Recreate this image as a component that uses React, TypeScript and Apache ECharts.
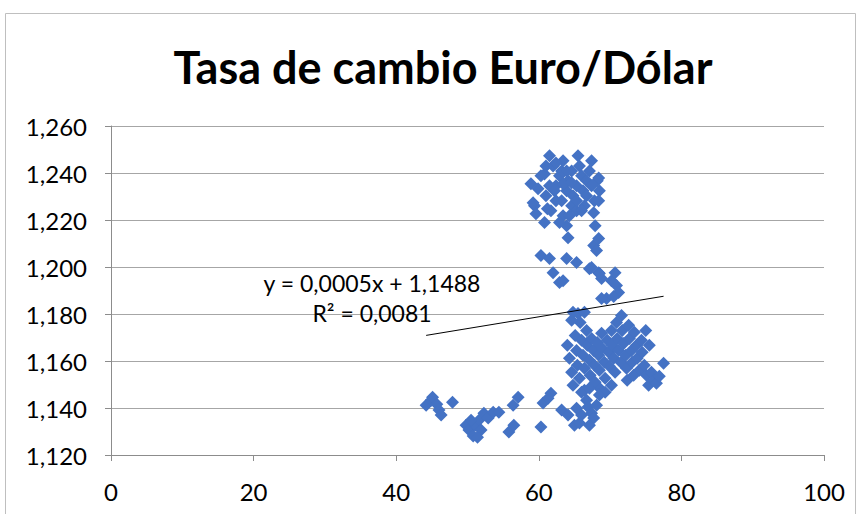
import React, { useEffect, useRef } from "react";
import * as echarts from "echarts";

const chartTitle = "Tasa de cambio Euro/Dólar";
const equationText = "y = 0,0005x + 1,1488";
const r2Text = "R² = 0,0081";
const trendSlope = 0.0005;
const trendIntercept = 1.1488;

const yTickMin = 1.12;
const yTickMax = 1.26;
const yTickStep = 0.02;
const xTickMin = 0;
const xTickMax = 100;
const xTickStep = 20;

// lower-left group
const groupAX = [44.2, 44.9, 45.1, 45.7, 46.0, 46.3, 47.9, 49.8, 50.2, 50.8, 51.1, 51.6, 51.9, 52.3, 52.9, 53.6, 54.4, 55.8, 56.4, 56.5, 57.1, 51.4, 50.5];
const groupAY = [1.1412, 1.1433, 1.1446, 1.1416, 1.1391, 1.137, 1.1425, 1.1327, 1.1306, 1.1281, 1.1327, 1.1348, 1.1306, 1.1378, 1.1357, 1.1382, 1.1382, 1.1298, 1.1412, 1.1327, 1.1446, 1.1276, 1.1348];

// bottom-middle group
const groupBX = [60.3, 60.6, 61.7, 61.3, 63.2, 64.1, 65.0, 65.7, 66.0, 66.4, 66.7, 66.9, 67.4, 67.7, 67.1, 68.1, 68.4, 65.3];
const groupBY = [1.1319, 1.1421, 1.1463, 1.1442, 1.1391, 1.137, 1.1327, 1.1336, 1.137, 1.1476, 1.1433, 1.1404, 1.1378, 1.1357, 1.1327, 1.1412, 1.1488, 1.1399];

// main right group
const groupCX = [64.0, 64.3, 64.6, 64.8, 65.1, 65.3, 65.4, 65.7, 65.8, 66.0, 66.2, 66.4, 66.7, 66.8, 67.1, 67.2, 67.4, 67.7, 67.8, 67.9, 68.2, 68.4, 68.5, 68.8, 68.9, 69.2, 69.3, 69.6, 69.8, 69.9, 70.2, 70.3, 70.5, 70.7, 70.9, 71.0, 71.2, 71.5, 71.6, 71.7, 71.9, 72.2, 72.3, 72.6, 72.7, 73.0, 73.1, 73.4, 73.7, 73.8, 74.1, 74.4, 74.5, 74.8, 75.1, 75.4, 75.8, 76.1, 76.5, 76.9, 77.5, 75.5, 75.0, 69.3, 68.5, 70.2, 72.4, 73.3, 66.0, 67.1];
const groupCY = [1.1667, 1.1612, 1.1552, 1.1497, 1.1709, 1.1645, 1.1582, 1.1527, 1.1764, 1.1688, 1.1624, 1.1569, 1.173, 1.1667, 1.1603, 1.1539, 1.1696, 1.1645, 1.1582, 1.151, 1.1679, 1.1624, 1.1561, 1.1718, 1.1654, 1.1595, 1.1527, 1.1688, 1.1637, 1.1578, 1.173, 1.1667, 1.1612, 1.1552, 1.1764, 1.1696, 1.1645, 1.1595, 1.1794, 1.173, 1.1675, 1.1624, 1.1569, 1.1752, 1.1696, 1.1645, 1.1595, 1.1722, 1.1667, 1.1612, 1.1561, 1.1688, 1.1637, 1.1582, 1.1539, 1.1497, 1.1552, 1.1518, 1.1505, 1.1535, 1.159, 1.1667, 1.173, 1.1467, 1.1455, 1.1497, 1.1518, 1.1539, 1.1467, 1.1484];

// middle vertical streak
const groupDX = [60.3, 61.5, 62.0, 62.9, 63.4, 63.9, 64.1, 65.3, 64.6, 64.8, 65.5, 66.4, 67.1, 67.7, 68.1, 68.4, 68.8, 69.5, 70.2, 70.7, 70.9, 71.2, 70.5, 68.8, 67.4, 68.5];
const groupDY = [1.2049, 1.2036, 1.1976, 1.1934, 1.1942, 1.2036, 1.2125, 1.2019, 1.1773, 1.1807, 1.1802, 1.1807, 1.1993, 1.2091, 1.207, 1.1976, 1.1951, 1.1866, 1.1942, 1.1976, 1.1921, 1.1892, 1.1875, 1.1866, 1.1998, 1.1972];

// top group
const groupEX = [58.9, 59.4, 59.6, 59.2, 60.3, 60.8, 61.0, 61.5, 62.0, 61.7, 62.4, 62.9, 63.2, 63.4, 63.9, 64.1, 64.6, 64.8, 65.3, 65.5, 65.7, 66.0, 66.2, 66.7, 67.1, 67.4, 67.8, 68.2, 68.5, 67.7, 67.9, 68.4, 64.6, 65.3, 66.4, 63.9, 63.2, 63.4, 60.8, 59.9, 62.4, 61.5, 63.4, 65.3, 66.0, 66.7, 64.3, 62.9, 61.2, 67.4, 68.4, 68.4, 62.4, 63.9, 64.6, 62.2, 61.0];
const groupEY = [1.2354, 1.2261, 1.2227, 1.2273, 1.2388, 1.2396, 1.2303, 1.2473, 1.243, 1.2239, 1.2346, 1.2388, 1.2282, 1.2218, 1.2324, 1.2367, 1.2409, 1.2303, 1.2346, 1.2473, 1.243, 1.2388, 1.2324, 1.2367, 1.2409, 1.2346, 1.2282, 1.2367, 1.2324, 1.2231, 1.2176, 1.2121, 1.2261, 1.2239, 1.2261, 1.2176, 1.2409, 1.2452, 1.2189, 1.2333, 1.2282, 1.2346, 1.2354, 1.2282, 1.2239, 1.2303, 1.2218, 1.2189, 1.2248, 1.2452, 1.2379, 1.2282, 1.2443, 1.2409, 1.2358, 1.2324, 1.243];

const allX = [...groupAX, ...groupBX, ...groupCX, ...groupDX, ...groupEX];
const allY = [...groupAY, ...groupBY, ...groupCY, ...groupDY, ...groupEY];

const FONT = "Lato, 'Open Sans', sans-serif";

export default function App() {
  const ref = useRef<HTMLDivElement>(null);
  useEffect(() => {
    if (!ref.current) return;
    const chart = echarts.init(ref.current, undefined, { renderer: "svg" });
    const points = allX.map((x, i) => [x, allY[i]]);
    const xMin = Math.min(...allX);
    const xMax = Math.max(...allX);
    const trend = [
      [xMin, trendSlope * xMin + trendIntercept],
      [xMax, trendSlope * xMax + trendIntercept],
    ];
    chart.setOption({
      animation: false,
      backgroundColor: "#ffffff",
      grid: { left: 111, right: 33, top: 126, bottom: 59, containLabel: false },
      xAxis: {
        type: "value",
        min: xTickMin,
        max: xTickMax,
        interval: xTickStep,
        axisLine: { show: true, lineStyle: { color: "#8c8c8c", width: 1 } },
        axisTick: { show: true, inside: false, length: 6, lineStyle: { color: "#8c8c8c" } },
        splitLine: { show: false },
        axisLabel: { color: "#000", fontFamily: FONT, fontSize: 24, margin: 24 },
      },
      yAxis: {
        type: "value",
        min: yTickMin,
        max: yTickMax,
        interval: yTickStep,
        axisLine: { show: true, lineStyle: { color: "#8c8c8c", width: 1 } },
        axisTick: { show: true, inside: false, length: 6, lineStyle: { color: "#8c8c8c" } },
        splitLine: { show: true, lineStyle: { color: "#a6a6a6", width: 1 } },
        axisLabel: {
          color: "#000",
          fontFamily: FONT,
          fontSize: 24,
          margin: 24,
          formatter: (v: number) => v.toFixed(3).replace(".", ","),
        },
      },
      graphic: [
        {
          type: "rect",
          shape: { x: 5.5, y: 13.5, width: 850, height: 520 },
          style: { fill: "none", stroke: "#bfbfbf", lineWidth: 1 },
          silent: true,
          z: -1,
        },
        {
          type: "text",
          x: 443,
          y: 67,
          style: {
            text: chartTitle,
            fontFamily: FONT,
            fontWeight: "bold",
            fontSize: 45,
            fill: "#000",
            textAlign: "center",
            textVerticalAlign: "middle",
          },
        },
        {
          type: "text",
          x: 372,
          y: 283,
          style: {
            text: equationText,
            fontFamily: FONT,
            fontSize: 23,
            fill: "#000",
            textAlign: "center",
            textVerticalAlign: "middle",
          },
          z: 10,
        },
        {
          type: "text",
          x: 372,
          y: 313,
          style: {
            text: r2Text,
            fontFamily: FONT,
            fontSize: 23,
            fill: "#000",
            textAlign: "center",
            textVerticalAlign: "middle",
          },
          z: 10,
        },
      ],
      series: [
        {
          type: "scatter",
          data: points,
          symbol: "diamond",
          symbolSize: 13,
          itemStyle: { color: "#4472C4", opacity: 1 },
          z: 2,
        },
        {
          type: "line",
          data: trend,
          symbol: "none",
          lineStyle: { color: "#000", width: 1 },
          z: 3,
          silent: true,
        },
      ],
    });
    return () => chart.dispose();
  }, []);
  return (
    <div
      ref={ref}
      style={{ position: "fixed", left: 0, top: 0, width: 857, height: 514 }}
    />
  );
}
